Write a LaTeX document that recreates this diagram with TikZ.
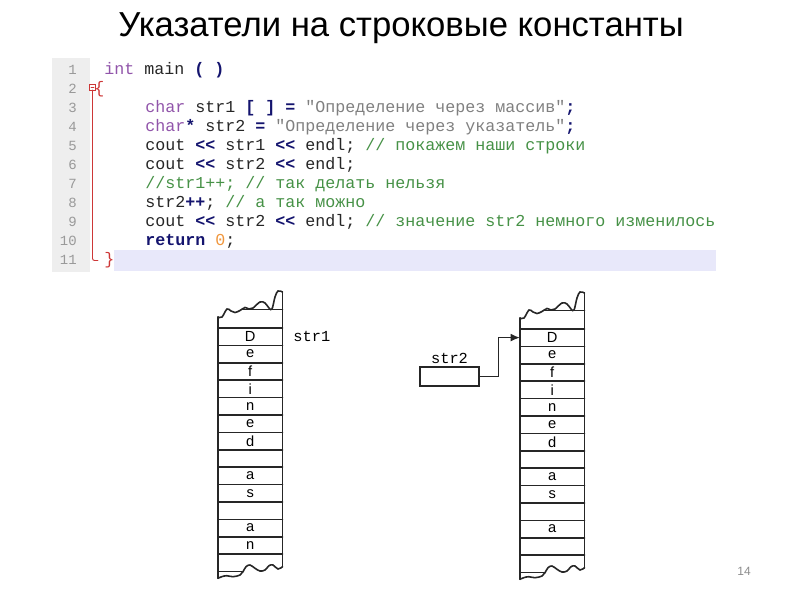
\documentclass[tikz,border=0pt]{standalone}
\usepackage{fontspec}
\setmainfont{Liberation Sans}
\setmonofont{Liberation Mono}
\usepackage{tikz}
\usetikzlibrary{arrows.meta,positioning}
\usepackage{xcolor}
\definecolor{kwcol}{RGB}{145,85,170}
\definecolor{opcol}{RGB}{20,20,110}
\definecolor{strcol}{RGB}{128,128,128}
\definecolor{cmtcol}{RGB}{70,145,70}
\definecolor{numcol}{RGB}{240,150,60}
\definecolor{foldcol}{RGB}{205,55,55}
\definecolor{hlcol}{RGB}{232,232,250}
\definecolor{guttercol}{RGB}{238,238,238}
\newcommand\kwd[1]{\textcolor{kwcol}{#1}}
\newcommand\opr[1]{\textcolor{opcol}{\bfseries #1}}
\newcommand\strl[1]{\textcolor{strcol}{#1}}
\newcommand\cmt[1]{\textcolor{cmtcol}{#1}}
\newcommand\numl[1]{\textcolor{numcol}{#1}}

\begin{document}
\begin{tikzpicture}[x=0.75pt,y=-0.75pt,line cap=round,
  codeline/.style={anchor=base west,inner sep=0,font=\ttfamily\fontsize{12.5}{14}\selectfont,text=black!85},
  lnum/.style={anchor=base east,inner sep=0,font=\ttfamily\fontsize{10.5}{12}\selectfont,text=black!40},
  cell/.style={minimum width=48pt,minimum height=13pt,inner sep=0,font=\fontsize{11}{12}\selectfont},
  memline/.style={line width=1.2pt,black!85},
  varname/.style={inner sep=1pt,font=\ttfamily\fontsize{11.5}{13}\selectfont},
  memcol/.pic={
    \draw[memline] plot[smooth,tension=0.6] coordinates {(0,6.5) (4,6.5) (9,-1.5) (13,0.5) (17,2) (22,0) (27,-3) (31,-1.5) (35,-2.5) (42,-8.5) (47,-7.5) (51,-2.5) (54,-1.5) (57,-13.5) (60,-19.5) (64.5,-18.5)};
    \draw[memline] (0,6.5) -- (0,267.8);
    \draw[memline] (64.5,-18.5) -- (64.5,256.2);
    \draw[memline] (25,-1) -- (64.5,-1);
    \foreach \k in {1,...,14} \draw[memline] (0,17.4*\k) -- (64.5,17.4*\k);
    \draw[memline] (0,261) -- (25,261);
    \draw[memline] plot[smooth,tension=0.6] coordinates {(0,267.8) (3.7,266.2) (8.7,265.2) (15,266.2) (22,264.5) (25,261.2) (28,256.2) (32,254.5) (37,257.8) (42,260.5) (47,259.5) (51,255.2) (55,254.5) (60,258.5) (64.5,256.2)};
  }]
\useasboundingbox (0,0) rectangle (800,600);

\node[anchor=base,inner sep=0,font=\fontsize{26}{30}\selectfont] (title) at (401,36) {Указатели на строковые константы};

% code panel
\fill[guttercol] (52,58) rectangle (90,272);
\fill[hlcol] (114,250) rectangle (716,271);
\foreach \i in {1,...,11} \node[lnum] (n\i) at (77,{74.5+19*(\i-1)}) {\i};
\draw[foldcol,line width=0.6pt] (89.5,84) rectangle (95.5,90);
\draw[foldcol,line width=0.6pt] (91,87) -- (94,87);
\draw[foldcol,line width=0.7pt,rounded corners=1.5pt] (92.5,90) -- (92.5,260.5) -- (98,260.5);
\node[codeline] (c1) at (104,74.5) {\kwd{int} main \opr{( )}};
\node[codeline,text=foldcol] (c2) at (94,93.5) {\{};
\node[codeline] (c3) at (145,112.5) {\kwd{char} str1 \opr{[ ]} \opr{=} \strl{"Определение через массив"}\opr{;}};
\node[codeline] (c4) at (145,131.5) {\kwd{char}\opr{*} str2 \opr{=} \strl{"Определение через указатель"}\opr{;}};
\node[codeline] (c5) at (145,150.5) {cout \opr{<<} str1 \opr{<<} endl; \cmt{// покажем наши строки}};
\node[codeline] (c6) at (145,169.5) {cout \opr{<<} str2 \opr{<<} endl;};
\node[codeline] (c7) at (145,188.5) {\cmt{//str1++; // так делать нельзя}};
\node[codeline] (c8) at (145,207.5) {str2\opr{++}; \cmt{// а так можно}};
\node[codeline] (c9) at (145,226.5) {cout \opr{<<} str2 \opr{<<} endl; \cmt{// значение str2 немного изменилось}};
\node[codeline] (c10) at (145,245.5) {\opr{return} \numl{0};};
\node[codeline,text=foldcol] (c11) at (104,264.5) {\}};

% memory columns
\pic at (218,310.5) {memcol};
\pic at (520,311.5) {memcol};
\foreach \c [count=\i from 0] in {{},D,e,f,i,n,e,d,{},a,s,{},a,n}
  \node[cell] (L\i) at (250.25,{319.2+17.4*\i}) {\c};
\foreach \c [count=\i from 0] in {{},D,e,f,i,n,e,d,{},a,s,{},a,{}}
  \node[cell] (R\i) at (552.25,{320.2+17.4*\i}) {\c};

\node[varname,right=7pt of L1] (str1) {str1};
\node[draw,memline,minimum width=44pt,minimum height=14pt,inner sep=0] (s2box) at (449.5,376.5) {};
\node[varname,above=1pt of s2box] (str2) {str2};
\draw[memline,-{Latex[length=7pt,width=6pt]}] (s2box.east) -- ++(19,0) |- (R1.west);

\node[font=\fontsize{9}{10}\selectfont,text=black!45] (page) at (744,571) {14};
\end{tikzpicture}
\end{document}
